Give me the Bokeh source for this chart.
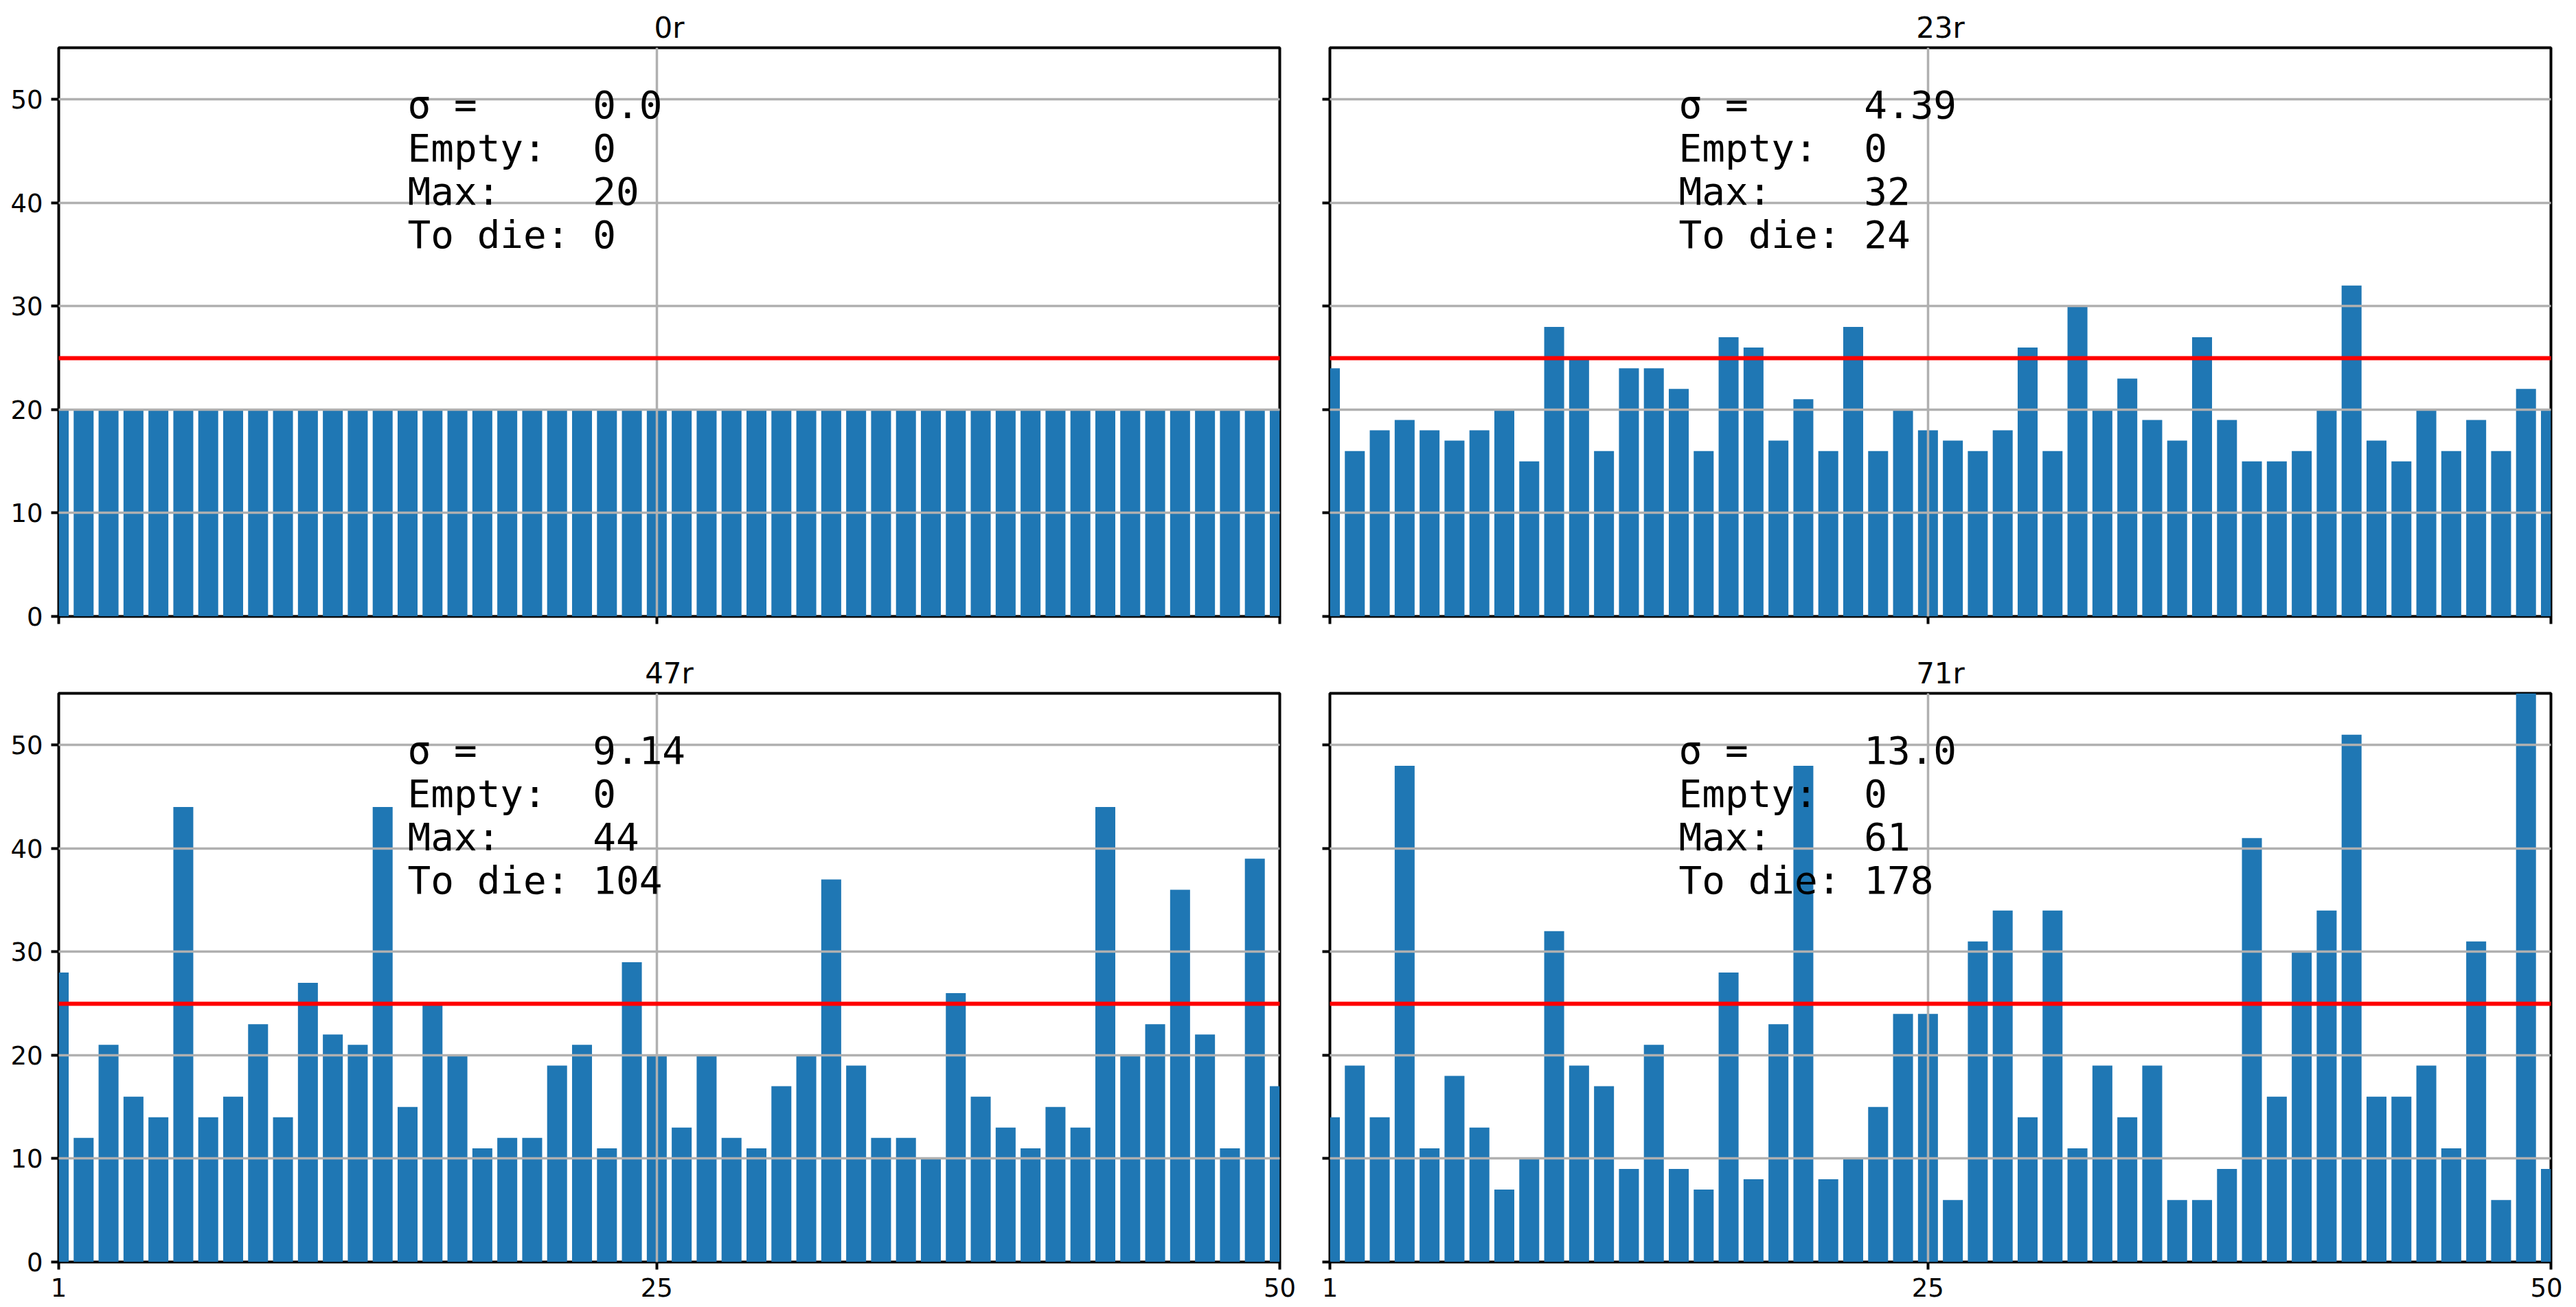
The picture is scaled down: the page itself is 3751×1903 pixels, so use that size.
from bokeh.plotting import figure
from bokeh.layouts import gridplot
from bokeh.models import Range1d, FixedTicker
from bokeh.core.properties import value
from bokeh.embed import file_html
from bokeh.resources import INLINE

# ---------------- data ----------------
bins = list(range(1, 51))
titles = ["0r", "23r", "47r", "71r"]

counts_0r = [20, 20, 20, 20, 20, 20, 20, 20, 20, 20,
             20, 20, 20, 20, 20, 20, 20, 20, 20, 20,
             20, 20, 20, 20, 20, 20, 20, 20, 20, 20,
             20, 20, 20, 20, 20, 20, 20, 20, 20, 20,
             20, 20, 20, 20, 20, 20, 20, 20, 20, 20]
counts_23r = [24, 16, 18, 19, 18, 17, 18, 20, 15, 28,
              25, 16, 24, 24, 22, 16, 27, 26, 17, 21,
              16, 28, 16, 20, 18, 17, 16, 18, 26, 16,
              30, 20, 23, 19, 17, 27, 19, 15, 15, 16,
              20, 32, 17, 15, 20, 16, 19, 16, 22, 20]
counts_47r = [28, 12, 21, 16, 14, 44, 14, 16, 23, 14,
              27, 22, 21, 44, 15, 25, 20, 11, 12, 12,
              19, 21, 11, 29, 20, 13, 20, 12, 11, 17,
              20, 37, 19, 12, 12, 10, 26, 16, 13, 11,
              15, 13, 44, 20, 23, 36, 22, 11, 39, 17]
counts_71r = [14, 19, 14, 48, 11, 18, 13, 7, 10, 32,
              19, 17, 9, 21, 9, 7, 28, 8, 23, 48,
              8, 10, 15, 24, 24, 6, 31, 34, 14, 34,
              11, 19, 14, 19, 6, 6, 9, 41, 16, 30,
              34, 51, 16, 16, 19, 11, 31, 6, 61, 9]
series = [counts_0r, counts_23r, counts_47r, counts_71r]

sigma_labels = ["0.0", "4.39", "9.14", "13.0"]
empty_counts = [0, 0, 0, 0]
max_counts = [20, 32, 44, 61]
to_die = [0, 24, 104, 178]
threshold = 25

x_ticks = [1, 25, 50]
y_ticks = [0, 10, 20, 30, 40, 50]

# ---------------- style ----------------
BAR = "#1f77b4"
GRID = "#b0b0b0"
FW, FH = 1778, 828
TEXT_X = 15
TEXT_Y = [49.5, 45.3, 41.15, 36.95]
NB = "\u00a0"


def make_panel(i):
    row, col = divmod(i, 2)
    p = figure(
        frame_width=FW, frame_height=FH,
        x_range=Range1d(1, 50), y_range=Range1d(0, 55),
        output_backend="svg", toolbar_location=None,
        title=titles[i],
        min_border_left=85 if col == 0 else 37,
        min_border_right=36 if col == 0 else 17,
        min_border_top=69 if row == 0 else 72,
        min_border_bottom=40 if row == 0 else 62,
    )
    p.background_fill_color = "white"
    p.border_fill_color = "white"
    p.outline_line_color = "black"
    p.outline_line_width = 4
    p.outline_line_alpha = 1.0

    p.vbar(x=bins, top=series[i], width=0.8, bottom=0,
           fill_color=BAR, line_color=None)

    hl = p.hspan(y=[threshold], line_color="red", line_width=6)
    hl.level = "annotation"

    lines = [
        "σ =" + NB * 5 + sigma_labels[i],
        "Empty:" + NB * 2 + str(empty_counts[i]),
        "Max:" + NB * 4 + str(max_counts[i]),
        "To" + NB + "die:" + NB + str(to_die[i]),
    ]
    t = p.text(x=[TEXT_X] * 4, y=TEXT_Y, text=lines,
               text_font=value("DejaVu Sans Mono"), text_font_size="56px",
               text_color="black", text_align="left", text_baseline="alphabetic")
    t.level = "annotation"

    # x axis: labelled only on the bottom row
    if row == 1:
        p.xaxis.ticker = FixedTicker(ticks=x_ticks)
    else:
        p.xaxis.ticker = FixedTicker(ticks=[], minor_ticks=x_ticks)
    # y axis: labelled only on the left column
    if col == 0:
        p.yaxis.ticker = FixedTicker(ticks=y_ticks)
    else:
        p.yaxis.ticker = FixedTicker(ticks=[], minor_ticks=y_ticks)
    p.xgrid.ticker = FixedTicker(ticks=x_ticks)
    p.ygrid.ticker = FixedTicker(ticks=y_ticks)

    for ax in (p.xaxis, p.yaxis):
        ax.axis_line_color = None
        ax.major_tick_in = 0
        ax.major_tick_out = 11
        ax.major_tick_line_width = 4
        ax.major_tick_line_color = "black"
        ax.minor_tick_in = 0
        ax.minor_tick_out = 11
        ax.minor_tick_line_width = 4
        ax.minor_tick_line_color = "black"
        ax.major_label_text_font = "DejaVu Sans"
        ax.major_label_text_font_size = "37px"
        ax.major_label_text_color = "black"
        ax.major_label_standoff = 12

    for g in (p.xgrid, p.ygrid):
        g.grid_line_color = GRID
        g.grid_line_width = 3.5
        g.level = "guide"

    p.title.text_font = "DejaVu Sans"
    p.title.text_font_size = "42px"
    p.title.text_font_style = "normal"
    p.title.text_color = "black"
    p.title.align = "center"
    p.title.standoff = 10
    return p


panels = [make_panel(i) for i in range(4)]
grid = gridplot([[panels[0], panels[1]], [panels[2], panels[3]]],
                toolbar_location=None)

open("out.html", "w").write(file_html(grid, INLINE))
